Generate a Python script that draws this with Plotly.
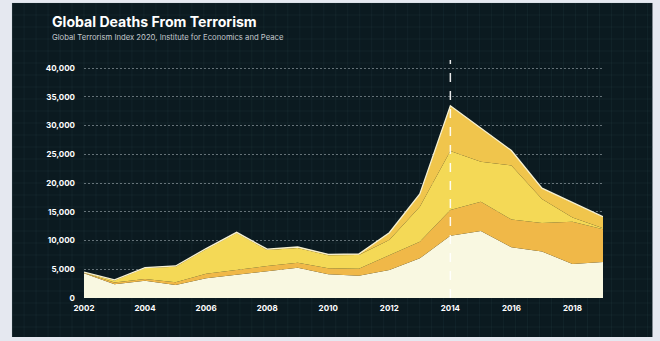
import plotly.graph_objects as go

years = list(range(2002, 2020))
# cumulative layer values, converted to per-layer values
layer1 = [4300, 2400, 3000, 2250, 3450, 4100, 4700, 5270, 4120, 3880, 4870, 6900, 10840, 11650, 8810, 8100, 5900, 6250]
layer2_top = [4400, 2700, 3300, 2750, 4200, 4900, 5550, 6140, 5160, 5100, 7480, 9790, 15300, 16750, 13650, 13050, 13250, 11950]
layer3_top = [4450, 3050, 5200, 5450, 8500, 11300, 8350, 8700, 7450, 7500, 10090, 15880, 25570, 23710, 23050, 17200, 14000, 12150]
total = [4500, 3150, 5300, 5570, 8600, 11420, 8500, 8870, 7600, 7650, 11360, 18090, 33440, 29620, 25650, 19100, 16650, 14140]

layer2 = [b - a for a, b in zip(layer1, layer2_top)]
layer3 = [b - a for a, b in zip(layer2_top, layer3_top)]
layer4 = [b - a for a, b in zip(layer3_top, total)]

y_ticks = [0, 5000, 10000, 15000, 20000, 25000, 30000, 35000, 40000]
x_ticks = [2002, 2004, 2006, 2008, 2010, 2012, 2014, 2016, 2018]
highlight_year = 2014
y_max = 41400

title = "Global Deaths From Terrorism"
subtitle = "Global Terrorism Index 2020, Institute for Economics and Peace"

W, H = 660, 341
ML, MR, MT, MB = 84, 56.5, 60, 43
PW, PH = W - ML - MR, H - MT - MB


def px2x(px):
    return (px - ML) / PW


def px2y(py):
    return (H - MB - py) / PH


colors = ["#f9f8e1", "#f0b848", "#f4d956", "#f0c54c"]
layers = [layer1, layer2, layer3, layer4]

fig = go.Figure()
for i, (vals, c) in enumerate(zip(layers, colors)):
    top = i == len(layers) - 1
    fig.add_trace(go.Scatter(
        x=years, y=vals, stackgroup="one", mode="lines",
        line=dict(width=1.3 if top else 0, color="#f7f1d2" if top else c),
        fillcolor=c, hoverinfo="skip", showlegend=False,
    ))

shapes = []
# light outer frame and dark panel
shapes.append(dict(type="rect", xref="paper", yref="paper",
                   x0=px2x(12), x1=px2x(653), y0=px2y(337), y1=px2y(3),
                   fillcolor="#0b1a20", line=dict(width=0), layer="below"))
# faint background texture grid
gx = 12
while gx <= 653:
    shapes.append(dict(type="line", xref="paper", yref="paper",
                       x0=px2x(gx), x1=px2x(gx), y0=px2y(337), y1=px2y(3),
                       line=dict(color="rgba(70,110,120,0.11)", width=1), layer="below"))
    gx += 12
gy = 3
while gy <= 337:
    shapes.append(dict(type="line", xref="paper", yref="paper",
                       x0=px2x(12), x1=px2x(653), y0=px2y(gy), y1=px2y(gy),
                       line=dict(color="rgba(70,110,120,0.11)", width=1), layer="below"))
    gy += 12
# highlight dashed line
shapes.append(dict(type="line", xref="x", yref="y",
                   x0=highlight_year, x1=highlight_year, y0=0, y1=y_max,
                   line=dict(color="rgba(255,255,255,0.9)", width=1.5, dash="dash"),
                   layer="above"))

fig.update_layout(
    width=W, height=H,
    margin=dict(l=ML, r=MR, t=MT, b=MB),
    paper_bgcolor="#e5e8f0",
    plot_bgcolor="rgba(0,0,0,0)",
    shapes=shapes,
    font=dict(family="Inter, Arial, sans-serif", color="#ffffff"),
    annotations=[
        dict(text="<b>" + title + "</b>", xref="paper", yref="paper",
             x=px2x(50), y=px2y(22), xanchor="left", yanchor="middle",
             showarrow=False, font=dict(size=14.1, color="#ffffff", family="Inter, Arial, sans-serif")),
        dict(text=subtitle, xref="paper", yref="paper",
             x=px2x(50), y=px2y(37.5), xanchor="left", yanchor="middle",
             showarrow=False, font=dict(size=7.7, color="#c3c8cc", family="Inter, Arial, sans-serif")),
    ],
)

fig.update_xaxes(
    range=[2002, 2019], tickvals=x_ticks, ticktext=[str(v) for v in x_ticks],
    showgrid=False, zeroline=False, showline=False, ticks="",
    tickfont=dict(size=8, color="#ffffff", weight="bold"),
    ticklabelstandoff=4,
)
fig.update_yaxes(
    range=[0, y_max], tickvals=y_ticks, tickformat=",d",
    showgrid=True, gridcolor="rgba(190,200,205,0.5)", griddash="2px,2px", gridwidth=1,
    zeroline=False, showline=False, ticks="",
    tickfont=dict(size=8, color="#ffffff", weight="bold"),
    ticklabelstandoff=8,
)

fig.write_html(
    "out.html",
    config={"displayModeBar": False},
    post_script="document.body.style.margin='0';document.body.style.padding='0';document.body.style.overflow='hidden';",
)
